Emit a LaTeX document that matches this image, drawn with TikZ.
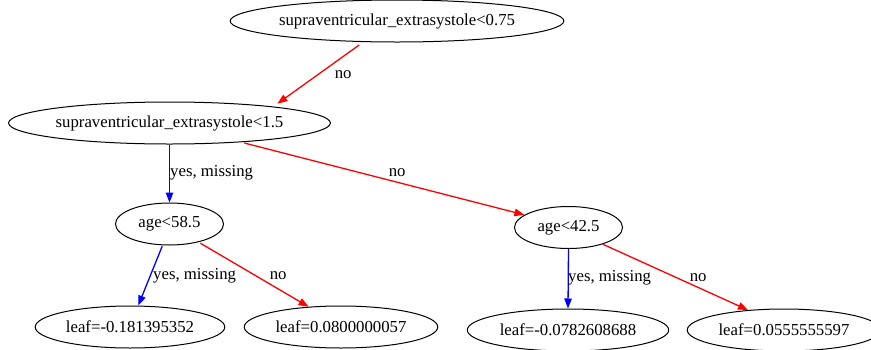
\documentclass[tikz,border=0pt]{standalone}
\usepackage{fontspec}
\setmainfont{Liberation Serif}
\usetikzlibrary{shapes.geometric,arrows.meta}

\begin{document}
\begin{tikzpicture}[x=1pt,y=-1pt,
    split/.style={ellipse,draw,line width=1pt,inner xsep=0pt,minimum height=42pt,
      font=\fontsize{16.75}{20}\selectfont},
    leaf/.style={split,inner xsep=3pt},
    yesedge/.style={draw=blue,line width=1.3pt,-{Triangle[length=10pt,width=7.5pt]}},
    noedge/.style={draw=red,line width=1.3pt,-{Triangle[length=10pt,width=7.5pt]}},
    lbl/.style={anchor=west,inner sep=0pt,font=\fontsize{16.75}{20}\selectfont}]
  \useasboundingbox (0,0) rectangle (871,349);
  % Splits
  \node[split] (root) at (397,21) {supraventricular\_extrasystole<0.75};
  \node[split] (sv) at (169.5,123) {supraventricular\_extrasystole<1.5};
  \node[split,minimum width=108pt] (ageA) at (169.5,224) {age<58.5};
  \node[split,minimum width=108pt] (ageB) at (568.5,227.5) {age<42.5};
  % Leaves
  \node[leaf] (leafA) at (130,327) {leaf=-0.181395352};
  \node[leaf] (leafB) at (341,327) {leaf=0.0800000057};
  \node[leaf] (leafC) at (568,330) {leaf=-0.0782608688};
  \node[leaf] (leafD) at (784,330) {leaf=0.0555555597};
  % Edges
  \draw[noedge,shorten <=5pt,shorten >=5pt] (root.-148.5) -- (sv.9.4);
  \draw[yesedge] (sv.south) -- (ageA.north);
  \draw[noedge,shorten <=3pt] (sv.-15.1) -- (ageB.164);
  \draw[yesedge,shorten <=1pt] (ageA.-108.7) -- (leafA.69);
  \draw[noedge,shorten <=2pt] (ageA.-32.7) -- (leafB.148);
  \draw[yesedge] (ageB.south) -- (leafC.north);
  \draw[noedge] (ageB.-26.2) -- (leafD.151.7);
  % Labels
  \node[lbl] (noA) at (334.6,75) {no};
  \node[lbl] (yesA) at (170,173) {yes, missing};
  \node[lbl] (noB) at (388.6,173) {no};
  \node[lbl] (yesB) at (153,276) {yes, missing};
  \node[lbl] (noC) at (269.6,276) {no};
  \node[lbl] (yesC) at (568,278) {yes, missing};
  \node[lbl] (noD) at (689.6,278) {no};
\end{tikzpicture}
\end{document}
